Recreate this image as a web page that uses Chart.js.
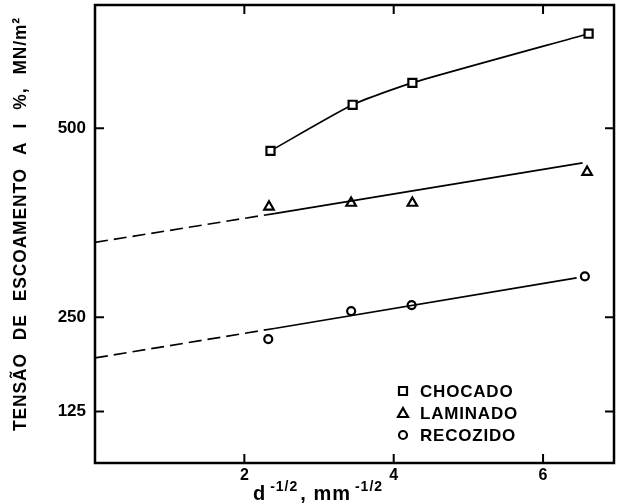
<!DOCTYPE html>
<html>
<head>
<meta charset="utf-8">
<script src="https://cdn.jsdelivr.net/npm/chart.js@4/dist/chart.umd.min.js"></script>
<style>
body { margin: 0; background: #fff; }
</style>
</head>
<body>
<canvas id="grafico" width="618" height="504"></canvas>
<script>
// values
const chocadoX = [2.35, 3.45, 4.25, 6.61];
const chocadoY = [470, 531, 560, 625];
const laminadoX = [2.33, 3.43, 4.25, 6.59];
const laminadoY = [396, 401, 401, 442];
const recozidoX = [2.32, 3.43, 4.24, 6.56];
const recozidoY = [221, 258, 266, 304];

// fitted lines, first piece dashed
const laminadoLinjeX = [0, 2.4, 6.53];
const laminadoLinjeY = [349, 387, 454];
const recozidoLinjeX = [0, 2.4, 6.45];
const recozidoLinjeY = [196, 235, 302];

const xTicks = [2, 4, 6];
const yTicks = [125, 250, 500];
const navne = ["CHOCADO", "LAMINADO", "RECOZIDO"];
const yTitel = "TENSÃO DE ESCOAMENTO A I %, MN/m²";

function punkter(xs, ys) {
    return xs.map((x, i) => ({ x: x, y: ys[i] }));
}

const skrift = "'Liberation Sans', Arial, sans-serif";

function tegnMarkor(ctx, stil, x, y) {
    ctx.save();
    ctx.strokeStyle = "#000";
    ctx.fillStyle = "#fff";
    ctx.lineWidth = 2.2;
    ctx.beginPath();
    if (stil == "rect") {
        ctx.rect(x - 4, y - 4, 8, 8);
    } else if (stil == "triangle") {
        ctx.moveTo(x, y - 5);
        ctx.lineTo(x + 5, y + 4);
        ctx.lineTo(x - 5, y + 4);
        ctx.closePath();
    } else {
        ctx.arc(x, y, 4, 0, Math.PI * 2);
    }
    ctx.fill();
    ctx.stroke();
    ctx.restore();
}

// frame with inward ticks on all four sides
const ramme = {
    id: "ramme",
    beforeDatasetsDraw(chart) {
        const ctx = chart.ctx;
        const a = chart.chartArea;
        const sx = chart.scales.x, sy = chart.scales.y;
        ctx.save();
        ctx.strokeStyle = "#000";
        ctx.lineWidth = 2.5;
        ctx.strokeRect(a.left, a.top, a.right - a.left, a.bottom - a.top);
        ctx.lineWidth = 2;
        ctx.beginPath();
        xTicks.forEach(v => {
            const px = sx.getPixelForValue(v);
            ctx.moveTo(px, a.bottom);
            ctx.lineTo(px, a.bottom - 9);
            ctx.moveTo(px, a.top);
            ctx.lineTo(px, a.top + 9);
        });
        yTicks.forEach(v => {
            const py = sy.getPixelForValue(v);
            ctx.moveTo(a.left, py);
            ctx.lineTo(a.left + 9, py);
            ctx.moveTo(a.right, py);
            ctx.lineTo(a.right - 9, py);
        });
        ctx.stroke();
        ctx.restore();
    },
    afterDraw(chart) {
        const ctx = chart.ctx;
        ctx.save();
        ctx.fillStyle = "#000";

        // y title, condensed to the length it has in the figure
        ctx.translate(21, 224);
        ctx.rotate(-Math.PI / 2);
        ctx.font = "bold 19px " + skrift;
        ctx.letterSpacing = "1px";
        ctx.wordSpacing = "8px";
        const k = Math.min(1, 414 / ctx.measureText(yTitel).width);
        ctx.scale(k, 1);
        ctx.textAlign = "center";
        ctx.textBaseline = "middle";
        ctx.fillText(yTitel, 0, 0);
        ctx.restore();

        // x title with superscripts
        ctx.save();
        ctx.fillStyle = "#000";
        ctx.letterSpacing = "1px";
        ctx.textBaseline = "alphabetic";
        const dele = [["d", 20, 0, 4], ["-1/2", 14, 9, 2], [", mm", 20, 0, 4], ["-1/2", 14, 9, 0]];
        let bredde = 0;
        dele.forEach(d => {
            ctx.font = "bold " + d[1] + "px " + skrift;
            bredde += ctx.measureText(d[0]).width + d[3];
        });
        let x = 318 - bredde / 2;
        dele.forEach(d => {
            ctx.font = "bold " + d[1] + "px " + skrift;
            ctx.fillText(d[0], x, 500 - d[2]);
            x += ctx.measureText(d[0]).width + d[3];
        });
        ctx.restore();

        // legend
        ctx.save();
        const stile = ["rect", "triangle", "circle"];
        const ys = [391, 413, 435];
        ctx.font = "bold 17px " + skrift;
        ctx.letterSpacing = "0.8px";
        ctx.textBaseline = "middle";
        ctx.fillStyle = "#000";
        navne.forEach((n, i) => {
            tegnMarkor(ctx, stile[i], 403, ys[i]);
            ctx.fillText(n, 420, ys[i] + 1);
        });
        ctx.restore();
    }
};

const stiplet = { borderDash: c => c.p0DataIndex == 0 ? [13, 6] : undefined };

const data = {
    datasets: [
        {
            label: "laminado linje",
            data: punkter(laminadoLinjeX, laminadoLinjeY),
            showLine: true,
            borderColor: "#000",
            borderWidth: 1.7,
            pointRadius: 0,
            segment: stiplet
        },
        {
            label: "recozido linje",
            data: punkter(recozidoLinjeX, recozidoLinjeY),
            showLine: true,
            borderColor: "#000",
            borderWidth: 1.7,
            pointRadius: 0,
            segment: stiplet
        },
        {
            label: navne[0],
            data: punkter(chocadoX, chocadoY),
            showLine: true,
            tension: 0.2,
            borderColor: "#000",
            borderWidth: 1.7,
            pointStyle: "rect",
            pointRadius: 5.7,
            pointBorderWidth: 2.2,
            pointBorderColor: "#000",
            pointBackgroundColor: "#fff"
        },
        {
            label: navne[1],
            data: punkter(laminadoX, laminadoY),
            showLine: false,
            pointStyle: "triangle",
            pointRadius: 5.5,
            pointBorderWidth: 2.2,
            pointBorderColor: "#000",
            pointBackgroundColor: "#fff"
        },
        {
            label: navne[2],
            data: punkter(recozidoX, recozidoY),
            showLine: false,
            pointStyle: "circle",
            pointRadius: 4,
            pointBorderWidth: 2.2,
            pointBorderColor: "#000",
            pointBackgroundColor: "#fff"
        }
    ]
};

// the scales should not push the plot area away from the edges
function fastBredde(s, w) {
    s.width = w;
    s.paddingTop = 0;
    s.paddingBottom = 0;
}
function fastHojde(s, h) {
    s.height = h;
    s.paddingLeft = 0;
    s.paddingRight = 0;
}

const config = {
    type: "scatter",
    data: data,
    plugins: [ramme],
    options: {
        responsive: false,
        animation: false,
        layout: { autoPadding: false, padding: { top: 5, right: 4, left: 0, bottom: 0 } },
        plugins: { legend: { display: false }, tooltip: { enabled: false } },
        scales: {
            x: {
                type: "linear",
                min: 0,
                max: 6.95,
                afterBuildTicks: s => { s.ticks = xTicks.map(v => ({ value: v })); },
                afterFit: s => fastHojde(s, 41),
                grid: { display: false, drawTicks: false },
                border: { display: false },
                ticks: { font: { family: skrift, size: 16, weight: "bold" }, color: "#000", padding: 3 }
            },
            y: {
                type: "linear",
                min: 57,
                max: 663,
                afterBuildTicks: s => { s.ticks = yTicks.map(v => ({ value: v })); },
                afterFit: s => fastBredde(s, 95),
                grid: { display: false, drawTicks: false },
                border: { display: false },
                ticks: { font: { family: skrift, size: 17, weight: "bold" }, color: "#000", padding: 9 }
            }
        }
    }
};

const mychart = new Chart(document.getElementById("grafico"), config);
</script>
</body>
</html>
